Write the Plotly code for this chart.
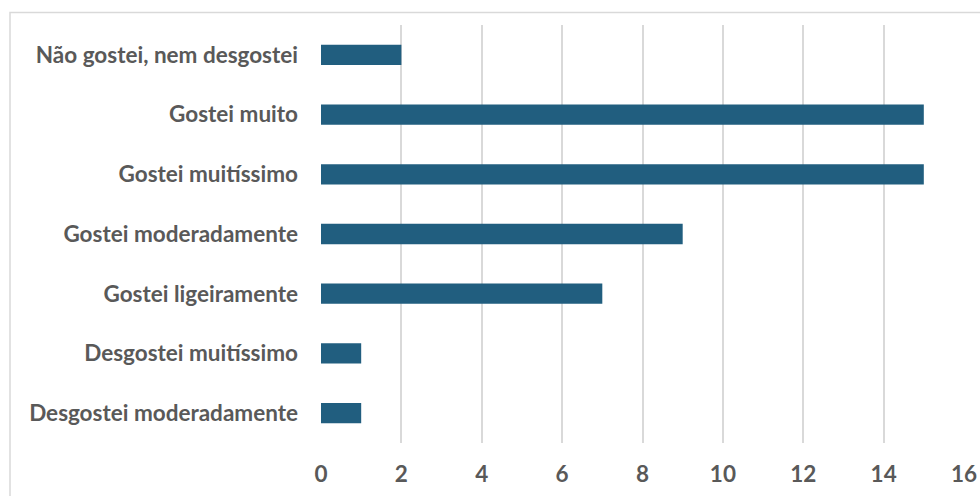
import plotly.graph_objects as go

categories = ["Não gostei, nem desgostei", "Gostei muito", "Gostei muitíssimo",
              "Gostei moderadamente", "Gostei ligeiramente", "Desgostei muitíssimo",
              "Desgostei moderadamente"]
values = [2, 15, 15, 9, 7, 1, 1]
x_ticks = [0, 2, 4, 6, 8, 10, 12, 14, 16]

L, R, T, B = 321, 16, 25, 53
W, H = 980, 496
pw, ph = W - L - R, H - T - B

tf = dict(family="Lato", size=22.5, color="#595959", weight="bold")

fig = go.Figure(go.Bar(
    y=categories, x=values, orientation="h",
    marker=dict(color="#215E7F", line=dict(width=0)),
))

fig.update_layout(
    width=W, height=H,
    margin=dict(l=L, r=R, t=T, b=B),
    paper_bgcolor="white", plot_bgcolor="white",
    bargap=0.66,
    showlegend=False,
    font=dict(family="Lato", size=22.5, color="#595959"),
    xaxis=dict(range=[0, 16], tickvals=x_ticks, showgrid=True, automargin=False,
               gridcolor="#D9D9D9", gridwidth=1.5, zeroline=False,
               showline=False, ticklabelstandoff=15, tickfont=tf),
    yaxis=dict(autorange="reversed", showgrid=False, zeroline=False, automargin=False,
               showline=False, ticklabelstandoff=22, tickfont=tf),
    shapes=[dict(type="rect", xref="paper", yref="paper",
                 x0=(10 - L) / pw, x1=(W + 20 - L) / pw,
                 y0=(H - B - (H + 20)) / ph, y1=(H - B - 12.5) / ph,
                 line=dict(color="#D9D9D9", width=1.5), fillcolor="rgba(0,0,0,0)",
                 layer="below")],
)

fig.write_html("out.html")
